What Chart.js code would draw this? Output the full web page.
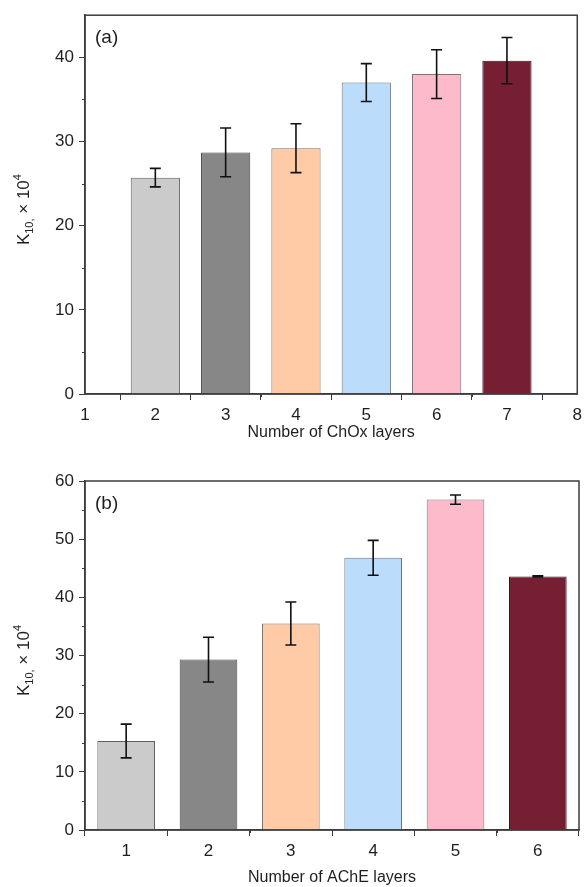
<!DOCTYPE html>
<html>
<head>
<meta charset="utf-8">
<script src="https://cdn.jsdelivr.net/npm/chart.js@4/dist/chart.umd.min.js"></script>
<style>
  html, body { margin: 0; padding: 0; background: #fff; }
  .panel { position: absolute; left: 0; width: 587px; }
  #boxA { top: 0; height: 440px; }
  #boxB { top: 440px; height: 447px; }
</style>
</head>
<body>
<div class="panel" id="boxA"><canvas id="chartA"></canvas></div>
<div class="panel" id="boxB"><canvas id="chartB"></canvas></div>
<script>
// panel (a) - ChOx layers
const choxLayers = [2, 3, 4, 5, 6, 7];
const choxK = [25.7, 28.7, 29.2, 37.0, 38.0, 39.6];
const choxErr = [1.1, 2.9, 2.9, 2.25, 2.9, 2.75];
const choxTicks = [1, 2, 3, 4, 5, 6, 7, 8];

// panel (b) - AChE layers
const acheLayers = [1, 2, 3, 4, 5, 6];
const acheK = [15.3, 29.3, 35.5, 46.8, 56.8, 43.6];
const acheErr = [2.9, 3.85, 3.7, 3.0, 0.8, 0.1];
const acheTicks = [1, 2, 3, 4, 5, 6];

const barColors = ['#cbcbcb', '#878787', '#fecba6', '#bcdcfb', '#fdbacb', '#761f32'];
const barBorders = ['#5f5f5f', '#454545', '#7f7268', '#67747f', '#85737a', '#3b0c18'];

const FONT = "'Liberation Sans', Arial, sans-serif";
const INK = '#1e1e1e';
const AXIS = '#3c3c3c';

// error bars, full frame, minor ticks, panel letter and y title with sub/superscript
const extras = {
    id: 'extras',
    afterDatasetsDraw(chart, args, opts) {
        const ctx = chart.ctx;
        const y = chart.scales.y;
        const meta = chart.getDatasetMeta(0);
        ctx.save();
        ctx.strokeStyle = '#111';
        ctx.lineWidth = 1.6;
        meta.data.forEach((bar, i) => {
            const v = opts.values[i], e = opts.errors[i];
            const yt = y.getPixelForValue(v + e);
            const yb = y.getPixelForValue(v - e);
            ctx.beginPath();
            ctx.moveTo(bar.x, yt); ctx.lineTo(bar.x, yb);
            ctx.moveTo(bar.x - 5.5, yt); ctx.lineTo(bar.x + 5.5, yt);
            ctx.moveTo(bar.x - 5.5, yb); ctx.lineTo(bar.x + 5.5, yb);
            ctx.stroke();
        });
        ctx.restore();
    },
    afterDraw(chart, args, opts) {
        const ctx = chart.ctx;
        const a = chart.chartArea;
        const x = chart.scales.x, y = chart.scales.y;
        ctx.save();
        ctx.strokeStyle = AXIS;
        ctx.lineWidth = 1.5;
        ctx.strokeRect(a.left, a.top, a.right - a.left, a.bottom - a.top);
        ctx.lineWidth = 1;
        ctx.beginPath();
        opts.minorX.forEach(v => {
            const px = Math.round(x.getPixelForValue(v)) + 0.5;
            ctx.moveTo(px, a.bottom); ctx.lineTo(px, a.bottom + 3);
        });
        opts.minorY.forEach(v => {
            const py = Math.round(y.getPixelForValue(v)) + 0.5;
            ctx.moveTo(a.left, py); ctx.lineTo(a.left - 3, py);
        });
        ctx.stroke();

        ctx.fillStyle = INK;
        ctx.font = '19px ' + FONT;
        ctx.textBaseline = 'top';
        ctx.fillText(opts.letter, a.left + 10, a.top + 13);

        // y axis title: K10, x10^4 rotated
        const big = '17px ' + FONT, small = '11px ' + FONT;
        const parts = [
            { t: 'K', f: big, dy: 0 },
            { t: '10', f: small, dy: 4 },
            { t: ',', f: small, dy: 4 },
            { t: ' \u00d7 10', f: big, dy: 0 },
            { t: '4', f: small, dy: -8 }
        ];
        let total = 0;
        parts.forEach(p => { ctx.font = p.f; p.w = ctx.measureText(p.t).width; total += p.w; });
        ctx.translate(29, (a.top + a.bottom) / 2 + 5);
        ctx.rotate(-Math.PI / 2);
        ctx.textBaseline = 'alphabetic';
        let cx = -total / 2;
        parts.forEach(p => { ctx.font = p.f; ctx.fillText(p.t, cx, p.dy); cx += p.w; });
        ctx.restore();
    }
};

function makeChart(id, layers, values, errors, cfg) {
    return new Chart(document.getElementById(id), {
        type: 'bar',
        data: {
            datasets: [{
                data: layers.map((l, i) => ({ x: l, y: values[i] })),
                backgroundColor: barColors,
                borderColor: barBorders,
                borderWidth: 1,
                barPercentage: 0.7,
                categoryPercentage: 1.0
            }]
        },
        options: {
            responsive: true,
            maintainAspectRatio: false,
            animation: false,
            layout: { padding: { top: cfg.padTop, right: 8, left: 0, bottom: 0 } },
            plugins: {
                legend: { display: false },
                tooltip: { enabled: false },
                extras: { values: values, errors: errors, minorX: cfg.minorX, minorY: cfg.minorY, letter: cfg.letter }
            },
            scales: {
                x: {
                    type: 'linear',
                    min: cfg.xMin, max: cfg.xMax,
                    offset: false,
                    afterFit: s => { s.height = cfg.xHeight; },
                    afterBuildTicks: s => { s.ticks = cfg.xTicks.map(v => ({ value: v })); },
                    ticks: { color: INK, font: { family: FONT, size: 17 }, padding: 5 },
                    grid: { drawOnChartArea: false, drawTicks: true, tickLength: 6, tickColor: AXIS, tickWidth: 1 },
                    border: { display: true, color: AXIS, width: 1.5 },
                    title: { display: true, text: cfg.xTitle, color: INK, font: { family: FONT, size: 16 }, padding: { top: 2, bottom: cfg.titlePadB } }
                },
                y: {
                    min: 0, max: cfg.yMax,
                    afterFit: s => { s.width = 85; },
                    afterBuildTicks: s => { s.ticks = s.ticks.filter(t => t.value % 10 === 0); },
                    ticks: { stepSize: 10, color: INK, font: { family: FONT, size: 17 }, padding: 5 },
                    grid: { drawOnChartArea: false, drawTicks: true, tickLength: 6, tickColor: AXIS, tickWidth: 1 },
                    border: { display: true, color: AXIS, width: 1.5 },
                    title: { display: false }
                }
            }
        },
        plugins: [extras]
    });
}

makeChart('chartA', choxLayers, choxK, choxErr, {
    xMin: 1, xMax: 8, yMax: 45, padTop: 14, xHeight: 46, titlePadB: -2,
    xTitle: 'Number of ChOx layers', letter: '(a)', xTicks: choxTicks,
    minorX: [1.5, 2.5, 3.5, 4.5, 5.5, 6.5, 7.5],
    minorY: [5, 15, 25, 35]
});

makeChart('chartB', acheLayers, acheK, acheErr, {
    xMin: 0.5, xMax: 6.5, yMax: 60, padTop: 41, xHeight: 57, titlePadB: 0,
    xTitle: 'Number of AChE layers', letter: '(b)', xTicks: acheTicks,
    minorX: [1.5, 2.5, 3.5, 4.5, 5.5],
    minorY: [5, 15, 25, 35, 45, 55]
});
</script>
</body>
</html>
